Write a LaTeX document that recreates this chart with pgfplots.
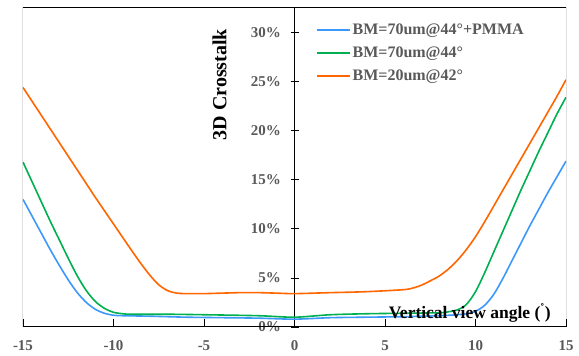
\documentclass[border=0pt]{standalone}
\usepackage{pgfplots}
\pgfplotsset{compat=1.18}
\usepackage{fontspec}
\setmainfont{Liberation Serif}
\definecolor{cblue}{RGB}{60,152,250}
\definecolor{cgreen}{RGB}{0,176,80}
\definecolor{corange}{RGB}{255,102,0}
\definecolor{tgray}{RGB}{89,89,89}
\begin{document}
\begin{tikzpicture}
\begin{axis}[
  scale only axis, width=543pt, height=319pt,
  xmin=-15, xmax=15, ymin=0, ymax=32.5,
  axis x line=bottom, axis y line=left,
  axis y line shift=-271.5pt,
  axis line style={-, black, line width=1pt},
  xtick={-15,-10,...,15}, ytick={0,5,...,30},
  xtick align=inside, ytick align=center,
  major tick length=8pt,
  tick style={black, line width=0.8pt},
  /pgf/number format/assume math mode=true,
  xticklabel={\pgfmathprintnumber{\tick}},
  yticklabel={\pgfmathprintnumber{\tick}\%},
  ticklabel style={font=\fontsize{15}{18}\selectfont\bfseries, text=tgray},
  xticklabel style={yshift=-10pt},
  yticklabel style={xshift=-6pt},
  xlabel={Vertical view angle (\textsuperscript{\char"02DA})},
  ylabel={3D Crosstalk},
  every axis x label/.style={at={(rel axis cs:0.823,0.045)}, anchor=center, font=\fontsize{17.5}{20}\selectfont\bfseries},
  every axis y label/.style={at={(rel axis cs:0.362,0.76)}, anchor=center, rotate=90, font=\fontsize{20}{22}\selectfont\bfseries},
  legend style={at={(rel axis cs:0.533,0.963)}, anchor=north west, draw=none, fill=none,
    font=\fontsize{16}{19}\selectfont\bfseries, text=tgray, row sep=7pt,
    cells={anchor=west}},
  legend cell align=left,
  legend image code/.code={\draw[#1, line width=2pt, sharp plot] (0pt,0pt) -- (33pt,0pt);},
  every axis plot/.append style={line width=1.6pt, smooth},
]
\addplot[color=cblue] coordinates {
(-15,13.0) (-14.5,11.3) (-14,9.6) (-13.5,7.9) (-13,6.3) (-12.5,4.8) (-12,3.5) (-11.5,2.5) (-11,1.8) (-10.5,1.4) (-10,1.2) (-9.5,1.15) (-8,1.1) (-6,1.0) (-4,0.95) (-2,0.9) (0,0.8) (2,0.95) (4,1.0) (6,1.05) (8,1.15) (9,1.25) (9.5,1.35) (10,1.6) (10.5,2.2) (11,3.3) (11.5,4.9) (12,6.7) (12.5,8.5) (13,10.3) (13.5,12.0) (14,13.7) (14.5,15.3) (15,16.9)
};
\addlegendentry{BM=70um@44°+PMMA}
\addplot[color=cgreen] coordinates {
(-15,16.8) (-14.5,14.8) (-14,12.8) (-13.5,10.8) (-13,8.9) (-12.5,7.0) (-12,5.2) (-11.5,3.7) (-11,2.6) (-10.5,1.9) (-10,1.5) (-9.5,1.35) (-9,1.3) (-7,1.3) (-5,1.25) (-2,1.15) (0,1.0) (2,1.25) (4,1.35) (6,1.4) (8,1.45) (8.5,1.55) (9,1.75) (9.5,2.3) (10,3.6) (10.5,5.5) (11,7.6) (11.5,9.7) (12,11.8) (12.5,13.9) (13,15.9) (13.5,17.9) (14,19.8) (14.5,21.7) (15,23.4)
};
\addlegendentry{BM=70um@44°}
\addplot[color=corange] coordinates {
(-15,24.4) (-14,21.6) (-13,18.8) (-12,16.0) (-11,13.2) (-10,10.5) (-9,7.8) (-8.5,6.5) (-8,5.3) (-7.5,4.3) (-7,3.7) (-6.5,3.45) (-6,3.4) (-5,3.4) (-4,3.45) (-3,3.5) (-2,3.5) (-1,3.45) (0,3.4) (2,3.5) (4,3.6) (6,3.8) (6.5,3.95) (7,4.25) (7.5,4.7) (8,5.2) (8.5,5.9) (9,6.8) (9.5,7.9) (10,9.2) (10.5,10.7) (11,12.3) (11.5,13.9) (12,15.5) (12.5,17.1) (13,18.7) (13.5,20.3) (14,21.9) (14.5,23.5) (15,25.2)
};
\addlegendentry{BM=20um@42°}
\draw[black, line width=1pt] (rel axis cs:0,0) rectangle (rel axis cs:1,1);
\end{axis}
\pgfresetboundingbox
\path (-23pt,-29pt) rectangle (556pt,327pt);
\end{tikzpicture}
\end{document}
